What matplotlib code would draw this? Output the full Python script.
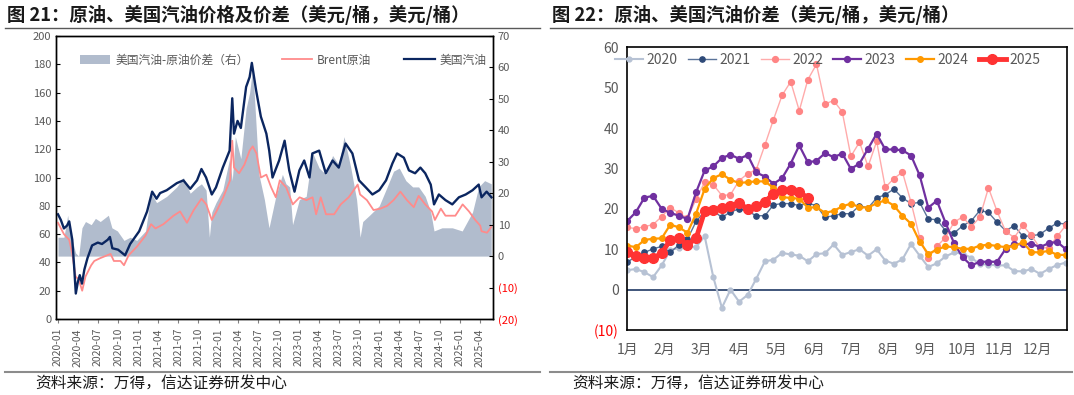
import numpy as np
import pandas as pd
import matplotlib
matplotlib.use("Agg")
import matplotlib.pyplot as plt
import matplotlib.dates as mdates
from matplotlib.patches import Patch
from matplotlib.lines import Line2D

plt.rcParams['font.family'] = ['Noto Sans CJK SC', 'DejaVu Sans']
plt.rcParams['axes.unicode_minus'] = False

# ---------------- Left chart data ----------------
gas_dates = ['2020-01-02','2020-01-15','2020-01-29','2020-02-12','2020-02-22','2020-03-07',
             '2020-03-15','2020-03-23','2020-04-01','2020-04-10','2020-04-20','2020-05-01',
             '2020-05-15','2020-06-05','2020-07-01','2020-07-20','2020-08-15','2020-08-25',
             '2020-09-05','2020-10-01','2020-11-02','2020-11-25','2021-01-05','2021-02-10',
             '2021-03-05','2021-03-25','2021-04-10','2021-05-10','2021-06-25','2021-07-25',
             '2021-08-25','2021-09-25','2021-10-15','2021-11-05','2021-12-01','2021-12-20',
             '2022-01-20','2022-02-20','2022-03-04','2022-03-12','2022-03-28','2022-04-12',
             '2022-05-06','2022-05-22','2022-06-01','2022-06-20','2022-07-12','2022-08-06',
             '2022-08-19','2022-09-03','2022-10-03','2022-10-28','2022-11-18','2022-12-12',
             '2023-01-03','2023-01-25','2023-02-18','2023-03-03','2023-04-03','2023-05-03',
             '2023-06-03','2023-07-01','2023-08-01','2023-09-01','2023-10-01','2023-11-01',
             '2023-12-01','2024-01-01','2024-02-01','2024-03-01','2024-03-22','2024-04-22',
             '2024-05-15','2024-06-12','2024-07-06','2024-07-28','2024-08-22','2024-09-06',
             '2024-09-28','2024-10-28','2024-11-28','2024-12-28','2025-01-28','2025-02-28',
             '2025-03-28','2025-04-10','2025-05-03','2025-05-25']
gas_values = [74, 70, 64, 66, 69, 56,
              38, 18, 26, 31, 25, 35,
              43, 52, 54, 53, 56, 58,
              50, 49, 45, 53, 62, 76,
              90, 85, 89, 91, 96, 98,
              92, 98, 106, 100, 88, 93,
              107, 119, 156, 131, 140, 135,
              164, 171, 181, 162, 143, 131,
              119, 100, 112, 126, 105, 90,
              105, 112, 100, 117, 119, 103,
              112, 107, 124, 117, 98, 93,
              88, 91, 98, 110, 117, 114,
              105, 103, 107, 103, 95, 81,
              88, 84, 81, 86, 88, 91,
              95, 86, 90, 86]

brent_dates = ['2020-01-02','2020-01-29','2020-02-22','2020-03-07','2020-03-22','2020-04-05',
               '2020-04-21','2020-05-06','2020-06-01','2020-06-15','2020-07-12','2020-08-28',
               '2020-09-12','2020-10-12','2020-10-28','2020-11-18','2020-12-25','2021-02-03',
               '2021-02-28','2021-03-20','2021-04-25','2021-06-10','2021-07-10','2021-08-10',
               '2021-09-10','2021-10-15','2021-11-06','2021-12-01','2021-12-22','2022-01-22',
               '2022-02-22','2022-03-04','2022-03-12','2022-04-04','2022-04-28','2022-05-22',
               '2022-06-05','2022-06-22','2022-07-12','2022-08-06','2022-08-28','2022-09-18',
               '2022-10-06','2022-11-04','2022-12-04','2023-01-04','2023-02-04','2023-03-04',
               '2023-03-20','2023-04-10','2023-05-04','2023-06-10','2023-07-10','2023-08-15',
               '2023-09-25','2023-10-06','2023-11-06','2023-12-06','2024-01-06','2024-02-06',
               '2024-03-06','2024-04-06','2024-05-06','2024-06-06','2024-06-28','2024-07-28',
               '2024-08-28','2024-09-10','2024-10-07','2024-10-28','2024-12-12','2025-01-14',
               '2025-02-12','2025-03-12','2025-04-04','2025-04-10','2025-05-05','2025-05-24']
brent_values = [68, 60, 56, 46, 30, 28,
                20, 30, 38, 41, 43, 46,
                41, 41, 38, 45, 51, 59,
                67, 64, 67, 73, 76, 68,
                77, 85, 81, 70, 76, 86,
                98, 126, 107, 103, 109, 119,
                122, 117, 100, 102, 93, 86,
                98, 93, 81, 86, 84, 86,
                74, 86, 74, 74, 81, 86,
                95, 88, 84, 77, 78, 80,
                84, 90, 84, 79, 87, 81,
                76, 70, 78, 73, 73, 81,
                76, 70, 66, 62, 61, 65]

spread_dates = ['2020-01-02','2020-01-29','2020-02-15','2020-02-25','2020-03-07','2020-03-22',
                '2020-04-05','2020-04-20','2020-05-06','2020-06-01','2020-06-20','2020-07-12',
                '2020-08-18','2020-09-03','2020-09-28','2020-10-28','2020-11-25','2020-12-25',
                '2021-02-03','2021-02-28','2021-03-25','2021-05-10','2021-06-25','2021-07-25',
                '2021-08-25','2021-09-25','2021-10-15','2021-11-05','2021-11-20','2021-12-01',
                '2021-12-20','2022-01-20','2022-02-20','2022-03-04','2022-03-18','2022-04-12',
                '2022-05-06','2022-05-22','2022-06-05','2022-06-20','2022-07-03','2022-07-28',
                '2022-08-18','2022-09-18','2022-10-18','2022-11-03','2022-11-20','2022-12-03',
                '2023-01-03','2023-02-03','2023-03-03','2023-04-03','2023-05-03','2023-06-03',
                '2023-07-01','2023-07-25','2023-08-25','2023-09-20','2023-10-06','2023-10-18',
                '2023-11-18','2024-01-01','2024-02-06','2024-03-06','2024-04-01','2024-05-01',
                '2024-06-01','2024-06-28','2024-07-28','2024-08-22','2024-09-06','2024-10-12',
                '2024-11-28','2025-01-12','2025-02-28','2025-03-28','2025-04-24','2025-05-24']
spread_values = [6, 6, 13, 8, 5, 1,
                 0, 9, 11, 10, 12, 11,
                 13, 9, 8, 5, 6, 5,
                 8, 20, 17, 19, 22, 25,
                 20, 22, 23, 21, 6, 14,
                 17, 21, 31, 24, 38, 31,
                 47, 52, 60, 42, 26, 18,
                 9, 19, 26, 23, 22, 10,
                 18, 19, 33, 28, 26, 32,
                 29, 38, 28, 18, 6, 11,
                 13, 16, 22, 27, 28, 24,
                 22, 22, 19, 14, 8, 9,
                 9, 8, 14, 22, 24, 23]

# ---------------- Right chart data ----------------
weeks = list(range(52))
month_labels = ['1月', '2月', '3月', '4月', '5月', '6月', '7月', '8月', '9月', '10月', '11月', '12月']
s2020 = [4.8, 5.1, 4.3, 3.1, 6.0, 9.8, 10.3, 10.5, 10.6, 13.2,
         3.1, -4.5, 0.0, -3.0, -1.3, 2.7, 7.0, 7.4, 9.1, 8.7,
         8.4, 7.0, 8.8, 9.0, 11.2, 8.6, 9.3, 10.0, 8.4, 10.0,
         7.2, 6.4, 7.5, 11.3, 8.4, 5.6, 6.5, 8.2, 9.2, 8.9,
         7.9, 6.3, 6.2, 6.0, 6.0, 4.6, 4.5, 5.1, 3.9, 5.1,
         6.1, 6.7]
s2021 = [6.8, 8.2, 9.2, 10.1, 10.7, 9.2, 11.1, 12.5, 16.9, 19.4,
         19.5, 17.9, 19.2, 20.0, 19.4, 18.3, 18.3, 21.0, 21.3, 21.3,
         20.8, 21.4, 20.8, 17.9, 18.3, 18.8, 18.8, 20.8, 20.2, 22.7,
         23.5, 24.9, 22.7, 21.3, 21.6, 17.5, 17.3, 14.6, 14.0, 15.8,
         17.0, 19.6, 19.1, 16.7, 14.6, 15.8, 13.2, 13.3, 13.7, 15.2,
         16.5, 16.2]
s2022 = [15.4, 15.1, 15.6, 16.1, 18.1, 20.3, 19.0, 17.7, 22.4, 26.6,
         26.0, 23.3, 23.5, 27.0, 28.7, 29.7, 35.8, 42.1, 48.1, 51.5,
         44.3, 52.0, 55.8, 46.0, 46.8, 44.0, 33.0, 36.5, 30.5, 36.7,
         25.3, 27.5, 29.1, 21.6, 12.9, 7.8, 10.7, 12.9, 16.7, 18.0,
         15.6, 17.9, 25.2, 19.4, 14.4, 12.9, 15.9, 13.4, 10.3, 10.4,
         13.2, 15.9]
s2023 = [17.0, 19.2, 22.8, 23.2, 20.0, 19.0, 18.3, 17.5, 24.1, 29.5,
         30.5, 32.6, 33.4, 32.4, 33.3, 29.0, 28.0, 26.2, 27.6, 31.2,
         35.7, 31.5, 31.9, 33.8, 32.8, 33.7, 29.9, 31.2, 34.9, 38.6,
         34.7, 34.7, 34.5, 33.2, 28.3, 20.3, 22.0, 16.6, 11.5, 8.0,
         6.0, 6.9, 6.9, 6.9, 10.1, 11.3, 11.2, 11.4, 10.5, 11.5,
         11.8, 10.0]
s2024 = [10.9, 10.5, 12.3, 12.6, 12.7, 16.1, 15.4, 14.1, 18.8, 25.0,
         27.6, 28.6, 27.2, 26.4, 26.6, 26.8, 26.8, 25.2, 22.9, 22.7,
         22.5, 20.3, 20.4, 19.0, 19.5, 20.6, 21.3, 20.4, 20.3, 21.4,
         22.1, 20.8, 18.3, 16.3, 11.9, 8.8, 9.9, 10.7, 10.5, 10.1,
         10.1, 10.9, 11.1, 10.8, 10.5, 10.8, 11.7, 9.3, 9.2, 9.6,
         8.6, 8.6]
s2025 = [9.4, 8.2, 7.9, 7.8, 9.0, 12.3, 12.7, 11.1, 12.7, 19.4,
         19.8, 20.2, 20.6, 21.4, 20.0, 20.6, 21.8, 23.7, 24.7, 24.6,
         24.2, 22.7]

GRAY_TXT = '#595959'

fig = plt.figure(figsize=(10.74, 3.95), dpi=100)
W, H = 1074.0, 395.0

def fx(px):
    return px / W

def fy(py):
    return 1 - py / H

# ---------------- Left chart ----------------
axL = fig.add_axes([fx(56), fy(319), (493 - 56) / W, (319 - 36) / H])
axR = axL.twinx()
axL.set_zorder(2)
axR.set_zorder(1)
axL.patch.set_visible(False)

sd = pd.to_datetime(spread_dates)
axR.fill_between(sd, 0, spread_values, color='#B1BCCD', lw=0)
axL.plot(pd.to_datetime(brent_dates), brent_values, color='#FF8B8B', lw=1.3)
axL.plot(pd.to_datetime(gas_dates), gas_values, color='#0B2660', lw=1.7)

axL.set_xlim(pd.Timestamp('2019-12-24'), pd.Timestamp('2025-06-01'))
axL.set_ylim(0, 200)
axL.set_yticks(range(0, 201, 20))
axR.set_ylim(-20, 70)
rt = list(range(-20, 71, 10))
axR.set_yticks(rt)
axR.set_yticklabels([f'({-v})' if v < 0 else str(v) for v in rt])
for lab, v in zip(axR.get_yticklabels(), rt):
    lab.set_color('#FF0000' if v < 0 else GRAY_TXT)

axL.xaxis.set_major_locator(mdates.MonthLocator(bymonth=[1, 4, 7, 10]))
axL.xaxis.set_major_formatter(mdates.DateFormatter('%Y-%m'))
axL.tick_params(axis='x', rotation=90, labelsize=7.5, labelcolor=GRAY_TXT,
                direction='out', length=3, color='#808080')
axL.tick_params(axis='y', labelsize=8, labelcolor=GRAY_TXT, direction='in', length=3)
axR.tick_params(axis='y', labelsize=8, direction='in', length=3)
for a in (axL, axR):
    for s in a.spines.values():
        s.set_color('black')
        s.set_linewidth(1.0)

hL = [Patch(facecolor='#B1BCCD', edgecolor='none'),
      Line2D([], [], color='#FF8B8B', lw=1.3),
      Line2D([], [], color='#0B2660', lw=1.6)]
axL.legend(hL, ['美国汽油-原油价差（右）', 'Brent原油', '美国汽油'], ncol=3, frameon=False,
           loc='center', bbox_to_anchor=(0.52, 0.915), fontsize=8.5,
           labelcolor=GRAY_TXT, handlelength=2.6, columnspacing=2.8, handletextpad=0.4)

# ---------------- Right chart ----------------
ax3 = fig.add_axes([fx(627.3), fy(330), (1066.7 - 627.3) / W, (330 - 47.3) / H])
series = [
    ('2020', s2020, '#B7C2D4', '#B7C2D4', 1.5, 3.5),
    ('2021', s2021, '#5A7399', '#2E4A78', 1.0, 3.8),
    ('2022', s2022, '#FFABAB', '#FF8585', 1.0, 4.2),
    ('2023', s2023, '#7030A0', '#7030A0', 1.6, 4.2),
    ('2024', s2024, '#FF9900', '#FF9900', 1.6, 4.0),
    ('2025', s2025, '#FF3333', '#FF3333', 3.5, 7.0),
]
for name, vals, lc, mc, lw, ms in series:
    ax3.plot(weeks[:len(vals)], vals, color=lc, lw=lw, marker='o', ms=ms,
             markerfacecolor=mc, markeredgecolor=mc, label=name)
ax3.axhline(0, color='#1F3864', lw=1.2, zorder=1)
ax3.set_xlim(0, 51.1)
ax3.set_ylim(-10, 60)
yt = list(range(-10, 61, 10))
ax3.set_yticks(yt)
ax3.set_yticklabels([f'({-v})' if v < 0 else str(v) for v in yt])
for lab, v in zip(ax3.get_yticklabels(), yt):
    lab.set_color('#FF0000' if v < 0 else GRAY_TXT)
ax3.set_xticks([k * 52 / 12 for k in range(12)])
ax3.set_xticklabels(month_labels)
ax3.tick_params(axis='both', length=0, labelsize=10, pad=6)
ax3.tick_params(axis='x', labelcolor=GRAY_TXT, pad=9)
for s in ax3.spines.values():
    s.set_color('black')
    s.set_linewidth(1.2)
ax3.legend(ncol=6, frameon=False, loc='center', bbox_to_anchor=(0.457, 0.955),
           fontsize=10, labelcolor=GRAY_TXT, handlelength=2.0, columnspacing=0.75,
           handletextpad=0.25)

# ---------------- Titles, rules, sources ----------------
fig.text(fx(7), fy(15), '图 21：原油、美国汽油价格及价差（美元/桶，美元/桶）', fontsize=13.2,
         weight='bold', va='center', ha='left', color='#1A1A1A')
fig.text(fx(552), fy(15), '图 22：原油、美国汽油价差（美元/桶，美元/桶）', fontsize=13.2,
         weight='bold', va='center', ha='left', color='#1A1A1A')
for x0, x1 in ((5, 540), (550, 1072)):
    fig.add_artist(Line2D([fx(x0), fx(x1)], [fy(28), fy(28)], color='#595959', lw=1.0))
    fig.add_artist(Line2D([fx(x0), fx(x1)], [fy(372), fy(372)], color='#8C8C8C', lw=1.5))
fig.text(fx(35), fy(383), '资料来源：万得，信达证券研发中心', fontsize=11.3, va='center',
         ha='left', color='#1A1A1A', style='italic')
fig.text(fx(572), fy(383), '资料来源：万得，信达证券研发中心', fontsize=11.3, va='center',
         ha='left', color='#1A1A1A', style='italic')

fig.savefig('out.png', dpi=100)
